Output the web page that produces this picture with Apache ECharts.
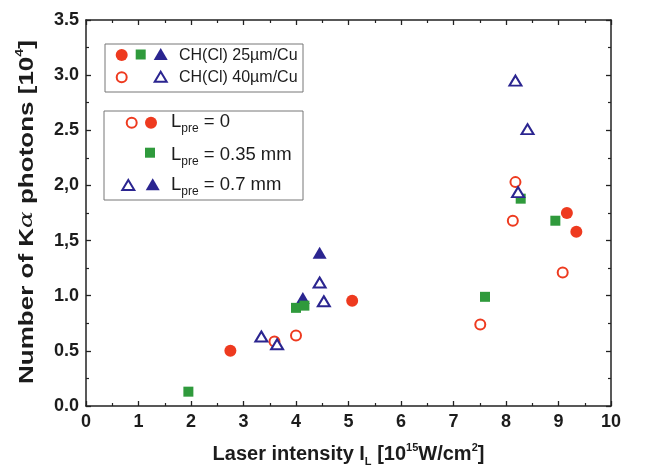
<!DOCTYPE html>
<html>
<head>
<meta charset="utf-8">
<script src="https://cdn.jsdelivr.net/npm/echarts@6/dist/echarts.min.js"></script>
<style>
  html, body { margin: 0; padding: 0; background: #fff; }
  #chart { width: 647px; height: 468px; }
</style>
</head>
<body>
<div id="chart"></div>
<script>
const FONT = "'Liberation Sans', Arial, sans-serif";
const RED = "#ee3a1f";
const GREEN = "#2f9a3c";
const BLUE = "#2b2590";
const AXIS = "#222";
const TEXT = "#1c1c1c";

// tick labels as printed (note the commas in the original)
const xTickLabels = ["0", "1", "2", "3", "4", "5", "6", "7", "8", "9", "10"];
const yTickLabels = ["0.0", "0.5", "1.0", "1,5", "2,0", "2.5", "3.0", "3.5"];

// CH(Cl) 25um/Cu, Lpre = 0 (filled circles)
const c25X = [2.75, 5.07, 9.16, 9.34];
const c25Y = [0.50, 0.955, 1.75, 1.58];
// CH(Cl) 25um/Cu, Lpre = 0.35 mm (filled squares)
const s25X = [1.95, 4.0, 4.16, 7.6, 8.28, 8.94];
const s25Y = [0.13, 0.89, 0.91, 0.99, 1.88, 1.68];
// CH(Cl) 25um/Cu, Lpre = 0.7 mm (filled triangles)
const t25X = [4.13, 4.45];
const t25Y = [0.98, 1.39];
// CH(Cl) 40um/Cu, Lpre = 0 (open circles)
const c40X = [3.59, 4.0, 7.51, 8.13, 8.18, 9.08];
const c40Y = [0.585, 0.64, 0.74, 1.68, 2.03, 1.21];
// CH(Cl) 40um/Cu, Lpre = 0.7 mm (open triangles)
const t40X = [3.34, 3.64, 4.53, 4.45, 8.18, 8.41, 8.23];
const t40Y = [0.63, 0.56, 0.95, 1.12, 2.95, 2.51, 1.94];

const pairs = (xs, ys) => xs.map((x, i) => [x, ys[i]]);

const MARKS = {
  c25: { symbol: "circle", size: [12, 12], style: { color: RED, opacity: 1 } },
  s25: { symbol: "rect", size: [10, 10], style: { color: GREEN, opacity: 1 } },
  t25: { symbol: "triangle", size: [14, 12], style: { color: BLUE, opacity: 1 } },
  c40: { symbol: "circle", size: [10, 10], style: { color: "#fff", borderColor: RED, borderWidth: 2, opacity: 1 } },
  t40: { symbol: "triangle", size: [12, 10], style: { color: "#fff", borderColor: BLUE, borderWidth: 2, opacity: 1 } },
};

const seriesData = {
  t25: pairs(t25X, t25Y),
  c25: pairs(c25X, c25Y),
  s25: pairs(s25X, s25Y),
  c40: pairs(c40X, c40Y),
  t40: pairs(t40X, t40Y),
};

const series = Object.keys(seriesData).map((key) => ({
  type: "scatter",
  name: key,
  data: seriesData[key],
  symbol: MARKS[key].symbol,
  symbolSize: MARKS[key].size,
  itemStyle: MARKS[key].style,
  emphasis: { disabled: true },
}));

// legend icons: one small legend per icon, placed by its centre
const icon = (key, cx, cy) => {
  const [w, h] = MARKS[key].size;
  const bw = MARKS[key].style.borderWidth || 0;
  return {
    left: cx - w / 2 - bw / 2,
    top: cy - h / 2 - bw / 2,
    padding: 0,
    itemWidth: w,
    itemHeight: h,
    selectedMode: false,
    formatter: () => "",
    textStyle: { fontSize: 1, lineHeight: 1, padding: 0 },
    data: [{ name: key, icon: MARKS[key].symbol, itemStyle: MARKS[key].style }],
  };
};

const legends = [
  icon("c25", 121.7, 55), icon("s25", 140.7, 54.5), icon("t25", 160.7, 54),
  icon("c40", 121.7, 77.3), icon("t40", 160.7, 76.7),
  icon("c40", 131.7, 122.7), icon("c25", 151, 122.7),
  icon("s25", 150, 152.7),
  icon("t40", 128.3, 185), icon("t25", 152.7, 184.3),
];

const legendRich = {
  a: { fontFamily: FONT, fontSize: 16, color: TEXT, lineHeight: 22 },
  b: { fontFamily: FONT, fontSize: 18.5, color: TEXT, lineHeight: 26 },
  sub: { fontFamily: FONT, fontSize: 12, color: TEXT, lineHeight: 12, verticalAlign: "bottom" },
};

const label = (text, x, y) => ({
  type: "text",
  x, y,
  style: { text, x: 0, y: 0, verticalAlign: "middle", rich: legendRich, fontFamily: FONT, fontSize: 16, fill: TEXT },
});

const chart = echarts.init(document.getElementById("chart"), null, { renderer: "canvas" });

const tickCommon = {
  axisLine: { show: true, onZero: false, lineStyle: { color: AXIS, width: 1.5 } },
  axisTick: { show: true, inside: true, length: 5, lineStyle: { color: AXIS, width: 1.3 } },
  minorTick: { show: true, splitNumber: 2, length: 3, lineStyle: { color: AXIS, width: 1.2 } },
  splitLine: { show: false },
  minorSplitLine: { show: false },
};

const option = {
  backgroundColor: "#fff",
  animation: false,
  grid: { left: 86, right: 36, top: 20, bottom: 62, outerBoundsMode: "none", containLabel: false },
  legend: legends,
  xAxis: [
    {
      type: "value", min: 0, max: 10, interval: 1,
      ...tickCommon,
      axisLabel: {
        margin: 7, fontFamily: FONT, fontWeight: "bold", fontSize: 18, color: TEXT,
        formatter: (v) => xTickLabels[Math.round(v)],
      },
      name: "{a|Laser intensity I}{sub|L}{a| [10}{sup|15}{a|W/cm}{sup|2}{a|]}",
      nameLocation: "middle",
      nameGap: 36,
      nameTextStyle: {
        rich: {
          a: { fontFamily: FONT, fontWeight: "bold", fontSize: 20, color: TEXT, lineHeight: 25 },
          sub: { fontFamily: FONT, fontWeight: "bold", fontSize: 11, color: TEXT, lineHeight: 11, verticalAlign: "bottom" },
          sup: { fontFamily: FONT, fontWeight: "bold", fontSize: 11, color: TEXT, lineHeight: 11, verticalAlign: "top" },
        },
      },
    },
    {
      type: "value", min: 0, max: 10, interval: 1, position: "top",
      ...tickCommon,
      axisLabel: { show: false },
    },
  ],
  yAxis: [
    {
      type: "value", min: 0, max: 3.5, interval: 0.5,
      ...tickCommon,
      axisLabel: {
        margin: 7, fontFamily: FONT, fontWeight: "bold", fontSize: 18, color: TEXT,
        formatter: (v) => yTickLabels[Math.round(v / 0.5)],
      },
    },
    {
      type: "value", min: 0, max: 3.5, interval: 0.5, position: "right",
      ...tickCommon,
      axisLabel: { show: false },
    },
  ],
  graphic: [
    { type: "rect", shape: { x: 105, y: 44, width: 198, height: 48 }, style: { fill: "none", stroke: "#777", lineWidth: 1 } },
    { type: "rect", shape: { x: 104, y: 111, width: 199, height: 89 }, style: { fill: "none", stroke: "#777", lineWidth: 1 } },
    label("{a|CH(Cl) 25µm/Cu}", 179, 56),
    label("{a|CH(Cl) 40µm/Cu}", 179, 78),
    label("{b|L}{sub|pre}{b| = 0}", 171, 122),
    label("{b|L}{sub|pre}{b| = 0.35 mm}", 171, 155),
    label("{b|L}{sub|pre}{b| = 0.7 mm}", 171, 185),
    {
      // y-axis title, stretched along its length like the original figure
      type: "text",
      x: 27, y: 212,
      rotation: Math.PI / 2,
      scaleX: 1.3,
      style: {
        text: "{a|Number of K}{g|α}{a| photons [10}{sup|4}{a|]}",
        align: "center",
        verticalAlign: "middle",
        rich: {
          a: { fontFamily: FONT, fontWeight: "bold", fontSize: 20, fill: TEXT, lineHeight: 25 },
          g: { fontFamily: "'DejaVu Serif', serif", fontStyle: "italic", fontSize: 19, fill: TEXT, lineHeight: 25 },
          sup: { fontFamily: FONT, fontWeight: "bold", fontSize: 11, fill: TEXT, lineHeight: 11, verticalAlign: "top" },
        },
      },
    },
  ],
  series,
};

chart.setOption(option);
</script>
</body>
</html>
